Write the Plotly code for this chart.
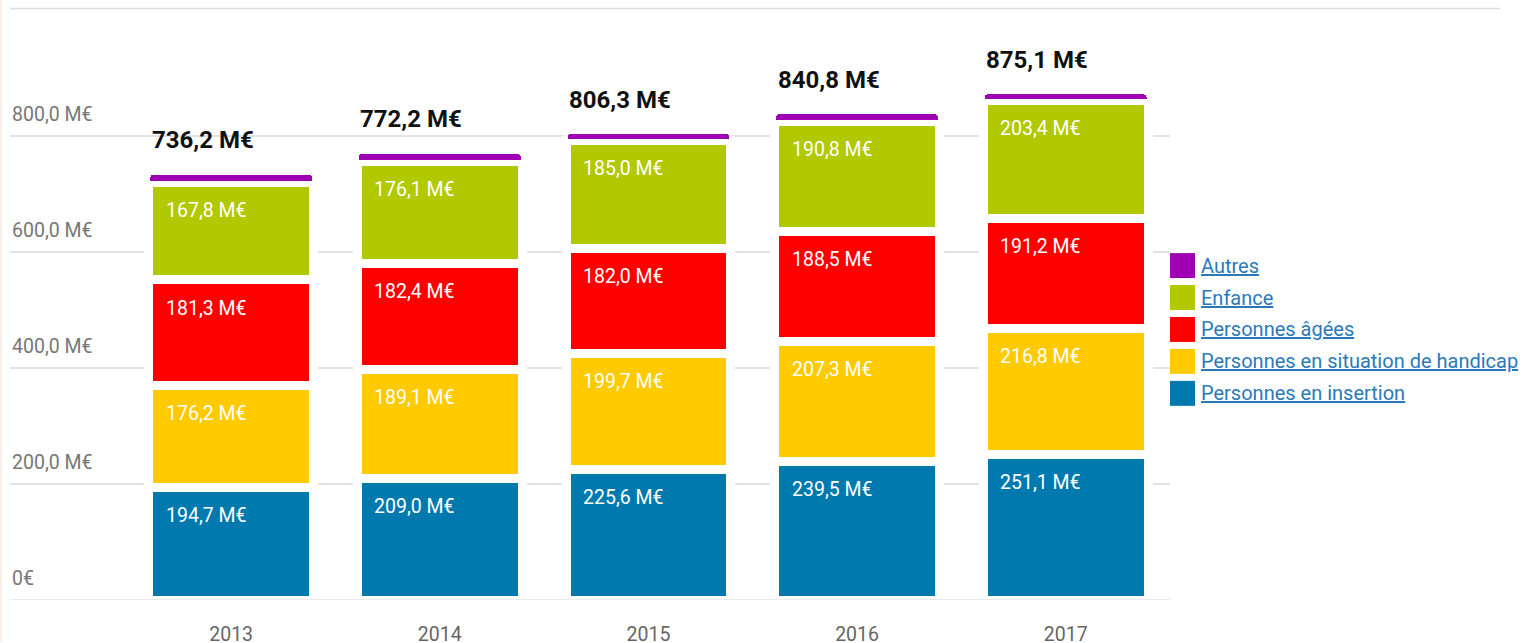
import plotly.graph_objects as go

years = ["2013", "2014", "2015", "2016", "2017"]
insertion = [194.7, 209.0, 225.6, 239.5, 251.1]
handicap = [176.2, 189.1, 199.7, 207.3, 216.8]
agees = [181.3, 182.4, 182.0, 188.5, 191.2]
enfance = [167.8, 176.1, 185.0, 190.8, 203.4]
autres = [16.2, 15.6, 14.0, 14.7, 12.6]
totals = [736.2, 772.2, 806.3, 840.8, 875.1]

ytick_vals = [0, 200, 400, 600, 800]
ytick_text = ["0€", "200,0 M€", "400,0 M€", "600,0 M€", "800,0 M€"]

series = [
    ("Personnes en insertion", insertion, "#0079af"),
    ("Personnes en situation de handicap", handicap, "#ffcb00"),
    ("Personnes âgées", agees, "#ff0000"),
    ("Enfance", enfance, "#b2c800"),
    ("Autres", autres, "#9f00b4"),
]

BW = 0.79
FONT = "Roboto"
K = 656 / 643                 # vertical compensation of the capture
W, H = 1525, 656
L, T = 10, round(10 * K, 1)
PW = 1160
PB = 601 * K                  # plot bottom in page px
PH = PB - T
R, B = W - L - PW, H - PB


def fmt(v):
    return f"{v:.1f}".replace(".", ",") + " M€"


fig = go.Figure()
for name, vals, col in series:
    lw = 3 if name == "Autres" else 9
    fig.add_trace(go.Bar(
        x=years, y=vals, name=name, width=BW,
        marker=dict(color=col, line=dict(color="white", width=lw), cornerradius=5),
        hoverinfo="skip", showlegend=False,
    ))

annotations = []
cum = [0.0] * len(years)
for name, vals, col in series:
    for i, v in enumerate(vals):
        top = cum[i] + v
        if name != "Autres":
            annotations.append(dict(
                x=i - BW / 2, y=top, xref="x", yref="y", text=fmt(v),
                showarrow=False, xanchor="left", yanchor="middle",
                xshift=15, yshift=-27.5 * K,
                font=dict(family=FONT, size=19.5, color="white"),
            ))
        cum[i] = top

for i, t in enumerate(totals):
    annotations.append(dict(
        x=i - BW / 2, y=t, xref="x", yref="y", text="<b>" + fmt(t) + "</b>",
        showarrow=False, xanchor="left", yanchor="middle",
        xshift=1, yshift=32.5 * K,
        font=dict(family=FONT, size=24, color="#111111"),
    ))

# y tick labels sit above their grid lines, inside the plot
for v, txt in zip(ytick_vals, ytick_text):
    annotations.append(dict(
        x=0, y=v, xref="paper", yref="y", text=txt, showarrow=False,
        xanchor="left", yanchor="middle", xshift=0, yshift=21.5 * K,
        font=dict(family=FONT, size=19.5, color="#777777"),
    ))


def px_x(x):
    return (x - L) / PW


def px_y(y):
    # y given in reference-picture pixels
    return (PB - y * K) / PH


shapes = []
leg_x0 = 1170
leg_y0 = 266
for k, (name, vals, col) in enumerate(reversed(series)):
    yc = leg_y0 + k * 32
    shapes.append(dict(type="rect", xref="paper", yref="paper",
                       x0=px_x(leg_x0), x1=px_x(leg_x0 + 25),
                       y0=px_y(yc + 12.5), y1=px_y(yc - 12.5),
                       fillcolor=col, line=dict(width=0)))
    annotations.append(dict(
        x=px_x(leg_x0 + 29), y=px_y(yc), xref="paper", yref="paper",
        text="<u>" + name + "</u>", showarrow=False, xanchor="left", yanchor="middle",
        font=dict(family=FONT, size=20, color="#2a7ab9"),
    ))

# top rule, faint left edge and zero line
shapes.append(dict(type="line", xref="paper", yref="paper", x0=0, x1=px_x(1500),
                   y0=px_y(8.5), y1=px_y(8.5), line=dict(color="#dddddd", width=1.5)))
shapes.append(dict(type="rect", xref="paper", yref="paper", x0=px_x(0), x1=px_x(2),
                   y0=px_y(643), y1=px_y(0), fillcolor="#fcefe9", line=dict(width=0)))
shapes.append(dict(type="line", xref="paper", yref="y", x0=0, x1=1, y0=0, y1=0,
                   line=dict(color="#e3e3e3", width=1.5), layer="above"))

fig.update_layout(
    barmode="stack",
    width=W, height=H,
    margin=dict(l=L, r=R, t=T, b=B),
    paper_bgcolor="white", plot_bgcolor="white",
    font=dict(family=FONT),
    annotations=annotations,
    shapes=shapes,
    xaxis=dict(type="category", range=[-1.06, 4.5], showgrid=False, zeroline=False,
               showline=False, ticks="", tickfont=dict(family=FONT, size=19.5, color="#666666"),
               ticklabelstandoff=20),
    yaxis=dict(range=[0, 1018], tickvals=ytick_vals, showticklabels=False,
               showgrid=True, gridcolor="#e3e3e3", gridwidth=1.5, zeroline=False,
               showline=False, ticks=""),
)

fig.write_html(
    "out.html",
    config={"displayModeBar": False},
    post_script="document.body.style.margin='0px';"
                "document.documentElement.style.overflow='hidden';",
)
